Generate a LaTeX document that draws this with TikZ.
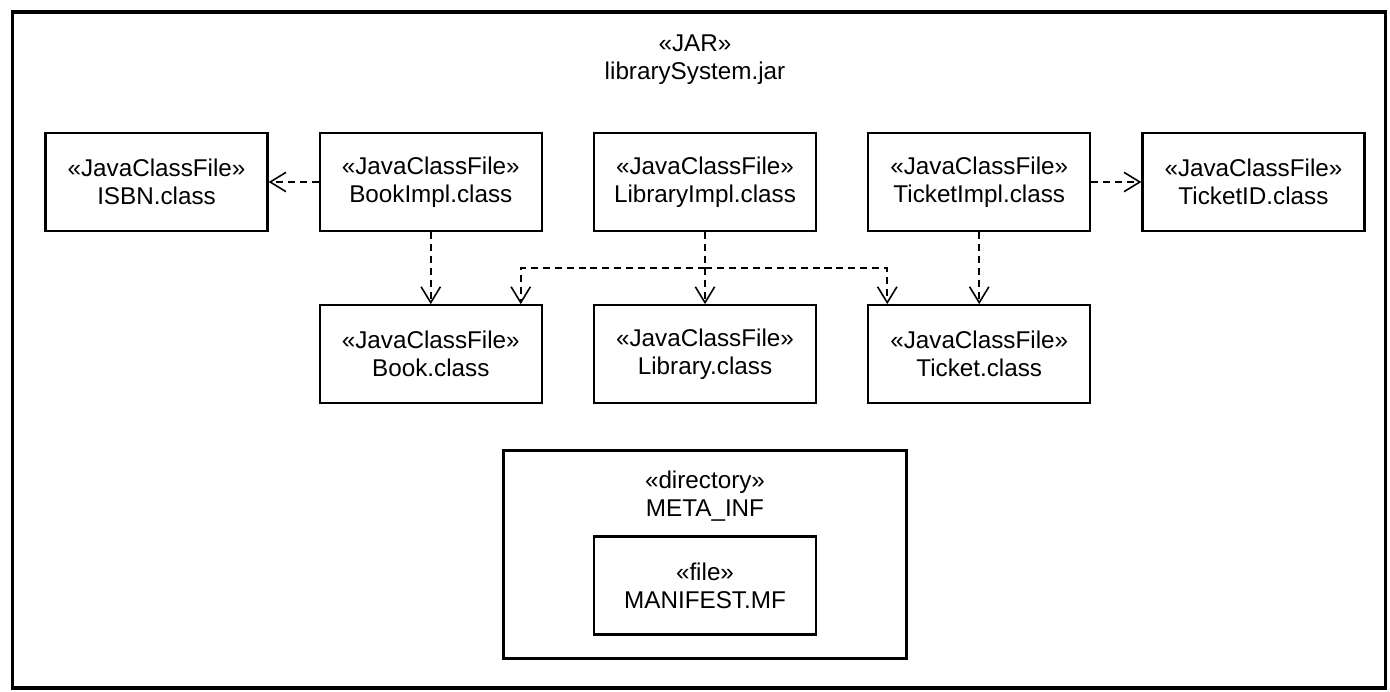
\documentclass[tikz,border=0pt]{standalone}
\usepackage{fontspec}
\setmainfont{Liberation Sans}
\usetikzlibrary{arrows.meta, positioning}

\begin{document}
\begin{tikzpicture}[
    x=0.02cm, y=-0.02cm,
    node distance=1cm,
    txt/.style={align=center, font=\fontsize{13.8}{16}\selectfont},
    box/.style={txt, rectangle, draw, line width=1.3pt, minimum width=4.44cm, minimum height=1.96cm},
    frame/.style={rectangle, draw, line width=1.8pt},
    dep/.style={-{Straight Barb[length=9pt, width=11pt]}, line width=0.9pt, dash pattern=on 4pt off 2.8pt}
]
\useasboundingbox (0,0) rectangle (1390,691);
\node[frame, minimum width=27.48cm, minimum height=13.52cm] (jar) at (699,350) {};
\node[txt] (jarlabel) at (695,60) {«JAR»\\librarySystem.jar};

\node[box] (libimpl) at (705,182) {«JavaClassFile»\\LibraryImpl.class};
\node[box, left=of libimpl] (bookimpl) {«JavaClassFile»\\BookImpl.class};
\node[box, left=of bookimpl] (isbn) {«JavaClassFile»\\ISBN.class};
\node[box, right=of libimpl] (ticketimpl) {«JavaClassFile»\\TicketImpl.class};
\node[box, right=of ticketimpl] (ticketid) {«JavaClassFile»\\TicketID.class};
\node[box, below=1.44cm of bookimpl] (book) {«JavaClassFile»\\Book.class};
\node[box, below=1.44cm of libimpl] (library) {«JavaClassFile»\\Library.class};
\node[box, below=1.44cm of ticketimpl] (ticket) {«JavaClassFile»\\Ticket.class};

\node[frame, line width=1.3pt, minimum width=8.06cm, minimum height=4.16cm, below=0.9cm of library] (metainf) {};
\node[txt, below=0.3cm of metainf.north] (dirlabel) {«directory»\\META\_INF};
\node[box, below=1.72cm of metainf.north] (manifest) {«file»\\MANIFEST.MF};

\draw[dep] (bookimpl) -- (isbn);
\draw[dep] (ticketimpl) -- (ticketid);
\draw[dep] (bookimpl) -- (book);
\draw[dep] (ticketimpl) -- (ticket);
\draw[dep] (libimpl) -- (library);
\coordinate[below=0.72cm of libimpl.south] (fork);
\draw[dep] (fork) -| ([xshift=1.8cm]book.north);
\draw[dep] (fork) -| ([xshift=-1.84cm]ticket.north);
\end{tikzpicture}
\end{document}
